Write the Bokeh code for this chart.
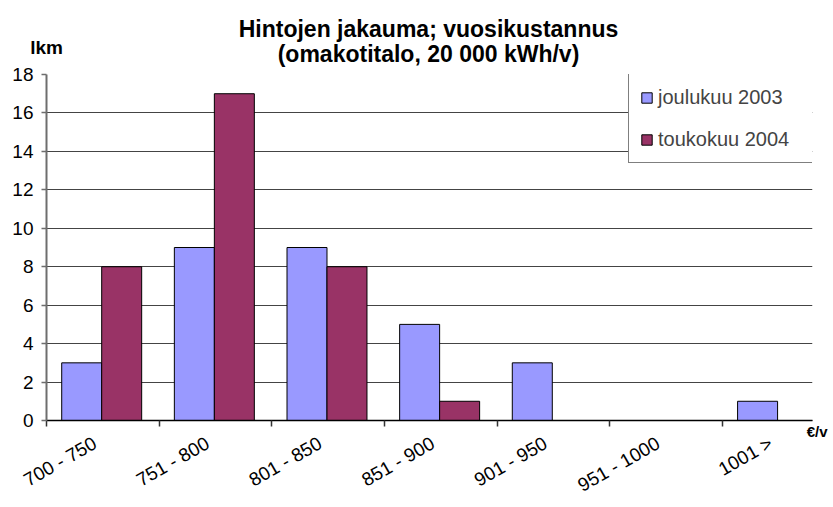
import numpy as np
from bokeh.plotting import figure
from bokeh.models import (Range1d, FixedTicker, Label, Legend, LegendItem,
                          ColumnDataSource)
from bokeh.embed import file_html
from bokeh.resources import INLINE

categories = ["700 - 750", "751 - 800", "801 - 850", "851 - 900",
              "901 - 950", "951 - 1000", "1001 >"]
dec_2003 = [3, 9, 9, 5, 3, 0, 1]
may_2004 = [8, 17, 8, 1, 0, 0, 0]
series_names = ["joulukuu 2003", "toukokuu 2004"]
y_ticks = list(range(0, 19, 2))
title_lines = ["Hintojen jakauma; vuosikustannus", "(omakotitalo, 20 000 kWh/v)"]
y_unit = "lkm"
x_unit = "€/v"

FONT = "Liberation Sans"
BLUE = "#9999FF"
MAROON = "#993366"

n = len(categories)
idx = np.arange(n)
pair_center = idx + 0.49
bar_w = 0.355
label_pos = idx + 0.43
boundaries = list(range(n + 1))
X_END = 6.80
Y_TOP = y_ticks[-1]

p = figure(width=833, height=507, output_backend="svg", toolbar_location=None,
           x_range=Range1d(0, X_END), y_range=Range1d(0, Y_TOP),
           min_border_left=46, min_border_right=0, min_border_top=74,
           min_border_bottom=87)
p.outline_line_color = None
p.background_fill_color = "white"
p.border_fill_color = "white"

src = ColumnDataSource(dict(
    x1=pair_center - bar_w / 2, x2=pair_center + bar_w / 2,
    dec=dec_2003, may=may_2004))
r1 = p.vbar(x="x1", top="dec", width=bar_w, source=src,
            fill_color=BLUE, line_color="black", line_width=1)
r2 = p.vbar(x="x2", top="may", width=bar_w, source=src,
            fill_color=MAROON, line_color="black", line_width=1)

# y axis
p.xgrid.visible = False
p.ygrid.grid_line_color = "#444444"
p.ygrid.grid_line_width = 1
p.yaxis.ticker = FixedTicker(ticks=y_ticks)
p.yaxis.axis_line_color = "#6e6e6e"
p.yaxis.axis_line_width = 2
p.yaxis.major_tick_line_color = "#6e6e6e"
p.yaxis.major_tick_line_width = 1.5
p.yaxis.major_tick_out = 5
p.yaxis.major_tick_in = 0
p.yaxis.minor_tick_line_color = None
p.yaxis.major_label_text_font = FONT
p.yaxis.major_label_text_font_size = "19px"
p.yaxis.major_label_text_color = "black"
p.yaxis.major_label_standoff = 8

# x axis: category names, tick marks at category boundaries
p.xaxis.ticker = FixedTicker(ticks=list(label_pos), minor_ticks=boundaries)
p.xaxis.major_label_overrides = {float(c): lab for c, lab in zip(label_pos, categories)}
p.xaxis.axis_line_color = "black"
p.xaxis.axis_line_width = 1.5
p.xaxis.major_tick_line_color = None
p.xaxis.major_tick_out = 0
p.xaxis.major_tick_in = 0
p.xaxis.minor_tick_line_color = "#333333"
p.xaxis.minor_tick_line_width = 1.5
p.xaxis.minor_tick_out = 6
p.xaxis.minor_tick_in = 0
p.xaxis.major_label_orientation = 0.52
p.xaxis.major_label_text_font = FONT
p.xaxis.major_label_text_font_size = "19px"
p.xaxis.major_label_text_color = "black"
p.xaxis.major_label_standoff = 15

# texts outside the plot area (placed in side panels so they are not clipped)
x_mid = X_END / 2
p.add_layout(Label(x=x_mid, y=Y_TOP, text=title_lines[0], text_align="center",
                   text_baseline="alphabetic", x_offset=-1, y_offset=45.5,
                   text_font=FONT, text_font_size="23px", text_font_style="bold",
                   text_color="black"), "above")
p.add_layout(Label(x=x_mid, y=Y_TOP, text=title_lines[1], text_align="center",
                   text_baseline="alphabetic", x_offset=-1, y_offset=20.5,
                   text_font=FONT, text_font_size="23px", text_font_style="bold",
                   text_color="black"), "above")
p.add_layout(Label(x=0, y=Y_TOP, text=y_unit, text_align="center",
                   text_baseline="alphabetic", y_offset=27,
                   text_font=FONT, text_font_size="19px", text_font_style="bold",
                   text_color="black"), "above")
p.add_layout(Label(x=X_END, y=0, text=x_unit, text_align="right",
                   text_baseline="alphabetic", x_offset=15, y_offset=-11,
                   text_font=FONT, text_font_size="15px", text_font_style="bold",
                   text_color="black"), "right")

legend = Legend(items=[LegendItem(label=series_names[0], renderers=[r1]),
                       LegendItem(label=series_names[1], renderers=[r2])],
                location=(582, 257))
legend.border_line_color = "black"
legend.border_line_width = 1
legend.background_fill_color = "white"
legend.background_fill_alpha = 1
legend.padding = 11
legend.spacing = 18
legend.margin = 0
legend.glyph_width = 13
legend.glyph_height = 13
legend.label_height = 24
legend.label_width = 165
legend.label_standoff = 5
legend.label_text_font = FONT
legend.label_text_font_size = "20px"
legend.label_text_baseline = "middle"
p.add_layout(legend, "center")

open("out.html", "w").write(file_html(p, INLINE))
